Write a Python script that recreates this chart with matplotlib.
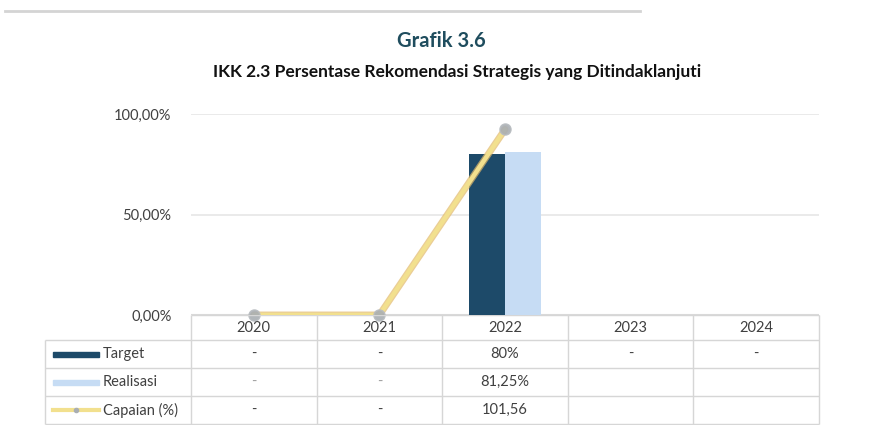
import numpy as np
import matplotlib
matplotlib.use("Agg")
import matplotlib.pyplot as plt
import matplotlib.patheffects as pe
from matplotlib.lines import Line2D
from matplotlib.patches import Rectangle

# ---- data ----
years = ["2020", "2021", "2022", "2023", "2024"]
target = [np.nan, np.nan, 80.0, np.nan, np.nan]          # %
realisasi = [np.nan, np.nan, 81.25, np.nan, np.nan]      # %
capaian = [0.0, 0.0, 101.56, np.nan, np.nan]             # capaian (%)
target_txt = ["-", "-", "80%", "-", "-"]
realisasi_txt = ["-", "-", "81,25%", "", ""]
capaian_txt = ["-", "-", "101,56", "", ""]
yticks = [0, 50, 100]
ytick_txt = ["0,00%", "50,00%", "100,00%"]

# ---- style ----
plt.rcParams["font.family"] = ["Lato", "DejaVu Sans"]
W, H = 896, 425
fig = plt.figure(figsize=(W / 100, H / 100), dpi=100)
fig.patch.set_facecolor("white")

C_TARGET = "#1d4a69"
C_REAL = "#c6dcf4"
C_LINE = "#f2e08e"
C_LINE_EDGE = "#e2b96a"
C_GRID = "#d9d9d9"
C_TXT = "#404040"
FS = 10.5

def px(x, y):
    return x / W, 1 - y / H

# top rule
fig.add_artist(Line2D([5 / W, 640 / W], [1 - 11 / H] * 2, color="#d4d4d4", lw=2))

# titles
fig.text(*px(441, 41), "Grafik 3.6", ha="center", va="center",
         fontsize=14.5, fontweight="bold", color="#1f4d5e")
fig.text(*px(457, 72), "IKK 2.3 Persentase Rekomendasi Strategis yang Ditindaklanjuti",
         ha="center", va="center", fontsize=12.5, fontweight="bold", color="#111111")

# ---- plot area ----
L, R, T, B = 191, 819, 114, 315
ax = fig.add_axes([L / W, 1 - B / H, (R - L) / W, (B - T) / H])
x = np.arange(len(years))
bw = 0.29
ax.bar(x - bw / 2, target, bw, color=C_TARGET, zorder=3)
ax.bar(x + bw / 2, realisasi, bw, color=C_REAL, zorder=3)
ax.set_xlim(-0.5, len(years) - 0.5)
ax.set_ylim(0, 100)
ax.set_yticks(yticks)
ax.set_yticklabels(ytick_txt, fontsize=FS, color=C_TXT)
ax.tick_params(axis="y", length=0, pad=14)
ax.set_xticks([])
for s in ax.spines.values():
    s.set_visible(False)
for v in yticks[1:]:
    ax.axhline(v, color="#e6e6e6", lw=1.2, zorder=1)
ax.axhline(0, color=C_GRID, lw=1.5, zorder=2)

# capaian on a secondary scale
ax2 = ax.twinx()
ax2.set_ylim(0, 110)
ax2.axis("off")
ax2.plot(x, capaian, color=C_LINE, lw=3.2, zorder=4, solid_capstyle="round",
         path_effects=[pe.Stroke(linewidth=5, foreground=C_LINE_EDGE, alpha=0.7), pe.Normal()])
ax2.plot(x, capaian, ls="none", marker="o", ms=8, color="#a9aeb3",
         markeredgecolor="#b8bcc0", alpha=0.9, zorder=5, clip_on=False)

# ---- data table ----
tax = fig.add_axes([0, 0, 1, 1 - B / H])
tax.set_xlim(0, W)
tax.set_ylim(H, B)
tax.axis("off")
cols = np.linspace(L, R, len(years) + 1)
rows = [315, 340, 368, 396, 424]
lc = "#d6d6d6"
tax.hlines(rows[0], L, R, color=lc, lw=1)
tax.hlines(rows[1:], 45, R, color=lc, lw=1)
tax.vlines(cols, rows[0], rows[-1], color=lc, lw=1)
tax.vlines(45, rows[1], rows[-1], color=lc, lw=1)

cx = (cols[:-1] + cols[1:]) / 2
for xi, yr in zip(cx, years):
    tax.text(xi, 328, yr, ha="center", va="center", fontsize=FS, color=C_TXT)

row_y = [(rows[i] + rows[i + 1]) / 2 for i in range(1, 4)]
row_names = ["Target", "Realisasi", "Capaian (%)"]
row_vals = [target_txt, realisasi_txt, capaian_txt]
for yy, name, vals in zip(row_y, row_names, row_vals):
    tax.text(103, yy, name, ha="left", va="center", fontsize=FS, color=C_TXT)
    for xi, v in zip(cx, vals):
        vc = "#a0a0a0" if (name == "Realisasi" and v == "-") else C_TXT
        tax.text(xi, yy, v, ha="center", va="center", fontsize=FS, color=vc)

# legend keys
tax.add_patch(Rectangle((53, row_y[0] - 2.5), 46, 5, color=C_TARGET))
tax.add_patch(Rectangle((53, row_y[1] - 2.5), 46, 5, color=C_REAL))
tax.plot([53, 99], [row_y[2]] * 2, color=C_LINE, lw=3)
tax.plot([76], [row_y[2]], marker="o", ms=3, color="#a9aeb3")

fig.savefig("out.png", dpi=100, facecolor="white")
